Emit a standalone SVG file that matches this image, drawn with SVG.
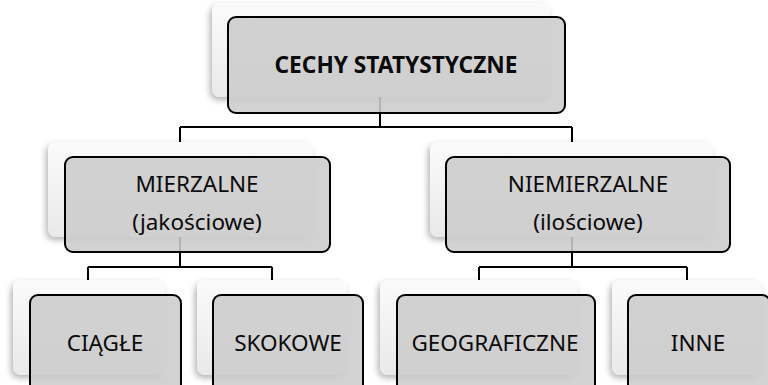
<svg xmlns="http://www.w3.org/2000/svg" width="768" height="385" viewBox="0 0 768 385">
<defs>
<linearGradient id="card" x1="0" y1="0" x2="0" y2="1">
<stop offset="0" stop-color="#fbfbfb"/>
<stop offset="1" stop-color="#e9e9e9"/>
</linearGradient>
<filter id="sh" x="-10%" y="-10%" width="120%" height="125%">
<feDropShadow dx="-2" dy="3" stdDeviation="3" flood-color="#000" flood-opacity="0.3"/>
</filter>
</defs>
<style>
.card{fill:url(#card);filter:url(#sh)}
.box{fill:#cccccc;fill-opacity:0.88;stroke:#000;stroke-width:2}
.conn{fill:none;stroke:#000;stroke-width:2}
text{font-family:"Noto Sans","Open Sans","Liberation Sans",sans-serif;font-size:22.5px;fill:#0a0a0a;text-anchor:middle}
.b{font-weight:bold;font-size:22.7px}
</style>
<rect width="768" height="385" fill="#fff"/>
<g id="connectors">
<path class="conn" d="M380 97V127M180 127H572M180 127V200M572 127V200"/>
<path class="conn" d="M180 200V267M88 267H272M88 267V320M272 267V320"/>
<path class="conn" d="M572 200V267M479 267H687M479 267V320M687 267V320"/>
</g>
<g id="cechy">
<rect class="card" x="212" y="3" width="338" height="94" rx="8"/>
<rect class="box" x="228" y="17" width="337" height="96" rx="8"/>
<text class="b" x="396" y="73">CECHY STATYSTYCZNE</text>
</g>
<g id="mierzalne">
<rect class="card" x="48" y="142" width="265" height="95" rx="8"/>
<rect class="box" x="65" y="157" width="265" height="95" rx="8"/>
<text x="197" y="192">MIERZALNE</text>
<text x="197" y="230">(jakościowe)</text>
</g>
<g id="niemierzalne">
<rect class="card" x="430" y="142" width="283" height="95" rx="8"/>
<rect class="box" x="446" y="157" width="284" height="95" rx="8"/>
<text x="588" y="192">NIEMIERZALNE</text>
<text x="588" y="230">(ilościowe)</text>
</g>
<g id="ciagle">
<rect class="card" x="13" y="280" width="152" height="95" rx="8"/>
<rect class="box" x="30" y="295" width="151" height="100" rx="8"/>
<text x="105" y="351">CIĄGŁE</text>
</g>
<g id="skokowe">
<rect class="card" x="197" y="280" width="150" height="95" rx="8"/>
<rect class="box" x="213" y="295" width="150" height="100" rx="8"/>
<text x="288" y="351">SKOKOWE</text>
</g>
<g id="geograficzne">
<rect class="card" x="380" y="280" width="198" height="95" rx="8"/>
<rect class="box" x="397" y="295" width="198" height="100" rx="8"/>
<text x="495" y="351">GEOGRAFICZNE</text>
</g>
<g id="inne">
<rect class="card" x="612" y="280" width="150" height="95" rx="8"/>
<rect class="box" x="628" y="295" width="142" height="100" rx="8"/>
<text x="698" y="351">INNE</text>
</g>
</svg>
